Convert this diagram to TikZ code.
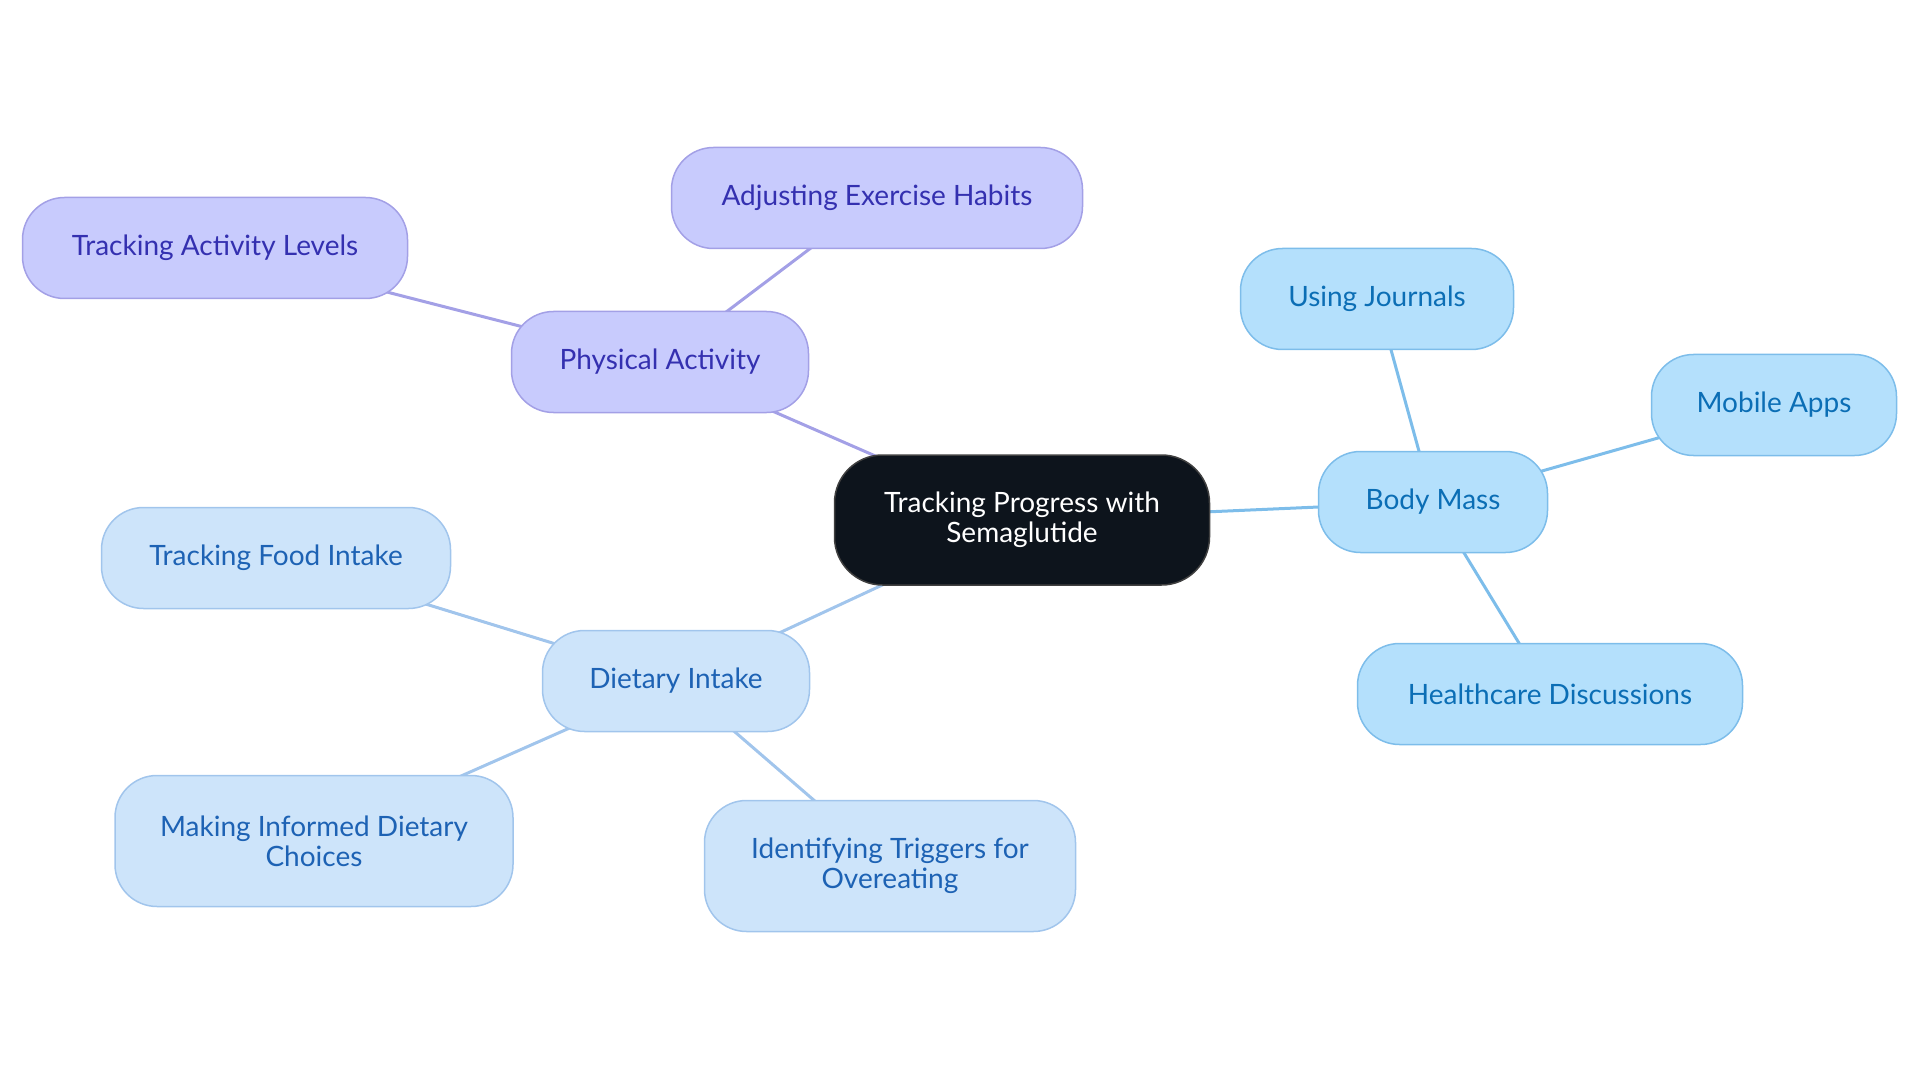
\documentclass[tikz,border=0pt]{standalone}
\usepackage{fontspec}
\setmainfont{Lato}
\definecolor{RootFill}{HTML}{0D141C}
\definecolor{LilacFill}{HTML}{C8CBFD}
\definecolor{LilacLine}{HTML}{A3A0E6}
\definecolor{LilacText}{HTML}{3430B0}
\definecolor{SkyFill}{HTML}{B4E0FC}
\definecolor{SkyLine}{HTML}{7DBDEA}
\definecolor{SkyText}{HTML}{0B6EB5}
\definecolor{PaleFill}{HTML}{CDE4FA}
\definecolor{PaleLine}{HTML}{A1C5EC}
\definecolor{PaleText}{HTML}{1D62B4}
\usetikzlibrary{backgrounds}

\begin{document}
\begin{tikzpicture}[
        x=1pt, y=1pt,
        pill/.style={rectangle, rounded corners=42pt, line width=1.5pt, align=center, minimum height=101pt, inner sep=0pt, font=\fontsize{28}{30}\selectfont},
        root/.style={pill, draw=black!75, fill=RootFill, text=white, minimum height=130pt, rounded corners=48pt},
        lilac/.style={pill, draw=LilacLine, fill=LilacFill, text=LilacText},
        sky/.style={pill, draw=SkyLine, fill=SkyFill, text=SkyText},
        pale/.style={pill, draw=PaleLine, fill=PaleFill, text=PaleText},
        link/.style={line width=3pt}
    ]
        \useasboundingbox (0,0) rectangle (1920,-1083);

        \node [root, minimum width=375pt] (root) at (1022,-520) {Tracking Progress with\\Semaglutide};

        \node [lilac, minimum width=297pt] (activity) at (660,-362) {Physical Activity};
        \node [lilac, minimum width=411pt] (exercise) at (877,-198) {Adjusting Exercise Habits};
        \node [lilac, minimum width=385pt] (levels) at (215,-248) {Tracking Activity Levels};

        \node [sky, minimum width=229pt] (mass) at (1433,-502) {Body Mass};
        \node [sky, minimum width=273pt] (journals) at (1377,-299) {Using Journals};
        \node [sky, minimum width=245pt] (apps) at (1774,-405) {Mobile Apps};
        \node [sky, minimum width=385pt] (health) at (1550,-694) {Healthcare Discussions};

        \node [pale, minimum width=267pt] (diet) at (676,-681) {Dietary Intake};
        \node [pale, minimum width=349pt] (food) at (276,-558) {Tracking Food Intake};
        \node [pale, minimum width=398pt, minimum height=131pt] (choices) at (314,-841) {Making Informed Dietary\\Choices};
        \node [pale, minimum width=371pt, minimum height=131pt] (triggers) at (890,-866) {Identifying Triggers for\\Overeating};

        \begin{scope}[on background layer]
            \draw [link, LilacLine] (root.center) -- (activity.center);
            \draw [link, LilacLine] (activity.center) -- (exercise.center);
            \draw [link, LilacLine] (activity.center) -- (levels.center);
            \draw [link, SkyLine] (root.center) -- (mass.center);
            \draw [link, SkyLine] (mass.center) -- (journals.center);
            \draw [link, SkyLine] (mass.center) -- (apps.center);
            \draw [link, SkyLine] (mass.center) -- (health.center);
            \draw [link, PaleLine] (root.center) -- (diet.center);
            \draw [link, PaleLine] (diet.center) -- (food.center);
            \draw [link, PaleLine] (diet.center) -- (choices.center);
            \draw [link, PaleLine] (diet.center) -- (triggers.center);
        \end{scope}
    \end{tikzpicture}
\end{document}
